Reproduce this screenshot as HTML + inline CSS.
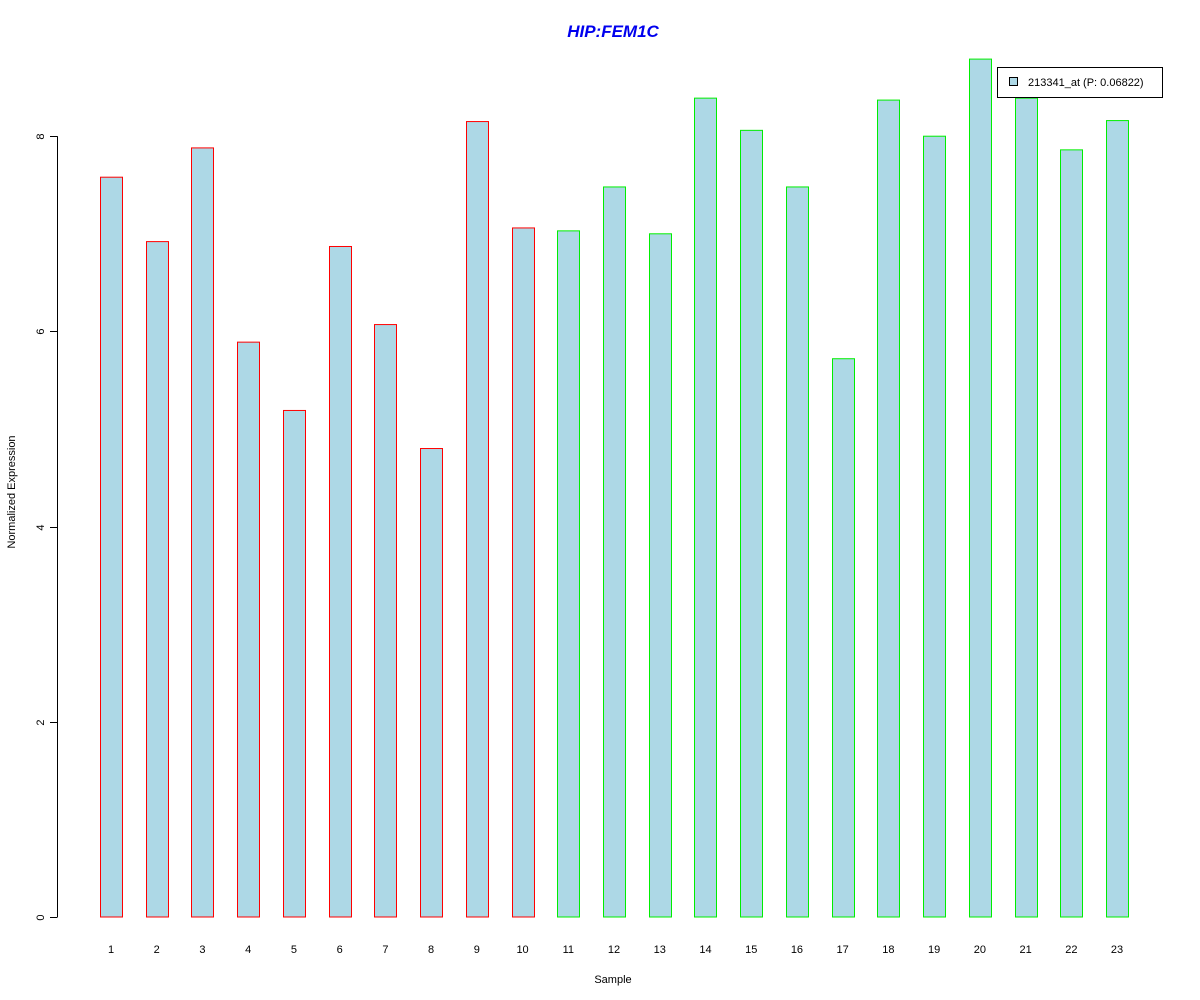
<!DOCTYPE html>
<html><head><meta charset="utf-8"><style>
body{margin:0;background:#fff;}
svg{display:block;font-family:"Liberation Sans",Arial,sans-serif;}
</style></head><body>
<svg id="chart" width="1200" height="1000" viewBox="0 0 1200 1000">
<text x="613" y="37" text-anchor="middle" font-size="17" font-weight="bold" font-style="italic" fill="#0000ee">HIP:FEM1C</text>
<g id="yaxis"></g>
<g id="bars"></g>
<g id="xlabels"></g>
<text transform="translate(15,492) rotate(-90)" text-anchor="middle" font-size="11">Normalized Expression</text>
<text x="613" y="983" text-anchor="middle" font-size="11">Sample</text>
<g>
<rect x="997.5" y="67.5" width="165" height="30" fill="#fff" stroke="#000"/>
<rect x="1009.5" y="77.5" width="8" height="8" fill="#add8e6" stroke="#000"/>
<text x="1028" y="86" font-size="11">213341_at (P: 0.06822)</text>
</g>
</svg>
<script>
const categories=["1","2","3","4","5","6","7","8","9","10","11","12","13","14","15","16","17","18","19","20","21","22","23"];
const values=[7.58,6.92,7.88,5.89,5.19,6.87,6.07,4.80,8.15,7.06,7.03,7.48,7.00,8.39,8.06,7.48,5.72,8.37,8.00,8.79,8.39,7.86,8.16];
const groups=["a","a","a","a","a","a","a","a","a","a","b","b","b","b","b","b","b","b","b","b","b","b","b"];
const yTicks=[0,2,4,6,8];
const NS="http://www.w3.org/2000/svg";
const y0=917,pxPer=97.6;
function yScale(v){return y0-v*pxPer;}
function xScale(i){return 111+i*45.73;}
function mk(tag,attrs,parent){const e=document.createElementNS(NS,tag);for(const k in attrs)e.setAttribute(k,attrs[k]);parent.appendChild(e);return e;}
const ya=document.getElementById('yaxis');
const axl=mk('line',{x1:57.5,x2:57.5,y1:yScale(yTicks[yTicks.length-1]),y2:yScale(yTicks[0]),stroke:'#000'},ya);


yTicks.forEach(t=>{
  const y=Math.round(yScale(t))+0.5;
  const tk=mk('line',{x1:50,x2:57.5,y1:y,y2:y,stroke:'#000'},ya);
  
  
  const tx=mk('text',{transform:`translate(44,${y}) rotate(-90)`,'text-anchor':'middle','font-size':11},ya);
  tx.textContent=t;
  
  
});
const bg=document.getElementById('bars'),xl=document.getElementById('xlabels');
values.forEach((v,i)=>{
  const cx=xScale(i);
  const r=mk('rect',{x:Math.round(cx-11)+0.5,y:yScale(v),width:22,height:y0-yScale(v),fill:'#add8e6',stroke:groups[i]==='a'?'#ff0000':'#00ee00'},bg);
  
  
  const t=mk('text',{x:cx,y:953,'text-anchor':'middle','font-size':11},xl);
  t.textContent=categories[i];
  
  
});
</script>
</body></html>
